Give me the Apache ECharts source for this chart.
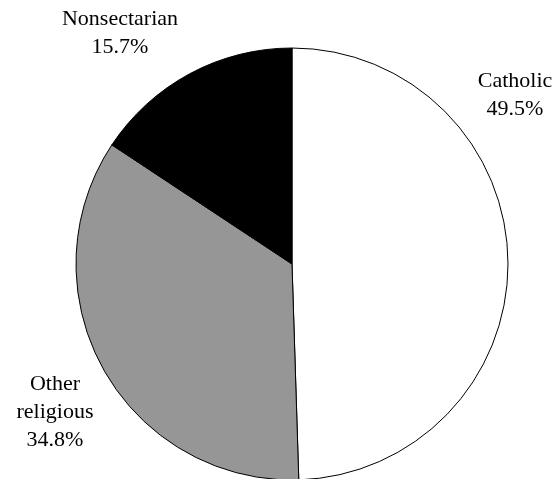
<!DOCTYPE html>
<html>
<head>
<meta charset="utf-8">
<script src="https://cdn.jsdelivr.net/npm/echarts@6/dist/echarts.min.js"></script>
<style>html,body{margin:0;padding:0;background:#fff}#c{width:559px;height:479px}</style>
</head>
<body>
<div id="c"></div>
<script>
const categories = ["Catholic", "Other religious", "Nonsectarian"];
const labelText = ["Catholic", "Other\nreligious", "Nonsectarian"];
const values = [49.5, 34.8, 15.7];
const colors = ["#ffffff", "#969696", "#000000"];
const labelPos = [[515, 95], [55, 412], [120, 33]];

const chart = echarts.init(document.getElementById('c'), null, {renderer: 'canvas'});
chart.setOption({
  animation: false,
  backgroundColor: '#fff',
  series: [{
    type: 'pie',
    center: [292, 264],
    radius: 216,
    startAngle: 90,
    clockwise: true,
    avoidLabelOverlap: false,
    itemStyle: {borderColor: '#000', borderWidth: 1},
    label: {
      show: true,
      position: 'outside',
      fontFamily: 'Liberation Serif',
      fontSize: 22,
      lineHeight: 28,
      color: '#000',
      align: 'center',
      formatter: p => labelText[p.dataIndex] + '\n' + p.value.toFixed(1) + '%'
    },
    labelLine: {show: false},
    labelLayout: function (params) {
      const p = labelPos[params.dataIndex];
      return {x: p[0], y: p[1], align: 'center', verticalAlign: 'middle'};
    },
    emphasis: {disabled: true},
    data: categories.map((c, i) => ({name: c, value: values[i], itemStyle: {color: colors[i]}}))
  }]
});
</script>
</body>
</html>
